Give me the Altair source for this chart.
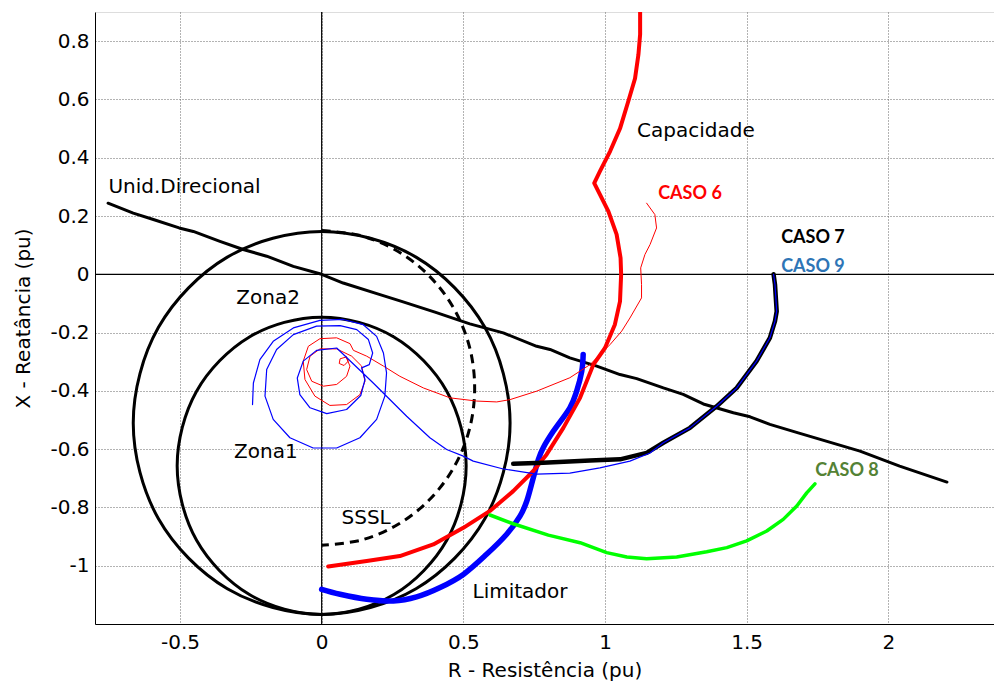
import altair as alt
import pandas as pd

# ---------------- data ----------------
unid_x = [-0.754, -0.665, -0.594, -0.503, -0.453, -0.359, -0.277, -0.194, -0.1, 0.0, 0.076, 0.206, 0.282, 0.4,
          0.523, 0.641, 0.759, 0.806, 0.876, 0.971, 1.053, 1.112, 1.206, 1.276, 1.347, 1.453, 1.512, 1.582,
          1.682, 1.9, 2.04, 2.207]
unid_y = [0.244, 0.21, 0.188, 0.159, 0.147, 0.113, 0.085, 0.062, 0.027, 0.0, -0.03, -0.07, -0.093, -0.13,
          -0.17, -0.201, -0.247, -0.258, -0.287, -0.315, -0.344, -0.358, -0.39, -0.412, -0.445, -0.475, -0.489,
          -0.515, -0.544, -0.607, -0.658, -0.713]

zona2_x = [0.0, 0.333, 0.576, 0.665, 0.576, 0.333, 0.0, -0.333, -0.576, -0.665, -0.576, -0.333]
zona2_y = [0.147, 0.059, -0.182, -0.51, -0.839, -1.079, -1.167, -1.079, -0.839, -0.51, -0.182, 0.059]

zona1_x = [0.0, 0.255, 0.442, 0.51, 0.442, 0.255, 0.0, -0.255, -0.442, -0.51, -0.442, -0.255]
zona1_y = [-0.147, -0.215, -0.402, -0.657, -0.912, -1.099, -1.167, -1.099, -0.912, -0.657, -0.402, -0.215]

sssl_x = [0.0, 0.14, 0.27, 0.382, 0.468, 0.522, 0.54, 0.522, 0.468, 0.382, 0.27, 0.14, 0.0]
sssl_y = [0.15, 0.132, 0.078, -0.008, -0.12, -0.25, -0.39, -0.53, -0.66, -0.772, -0.858, -0.912, -0.93]

cap_x = [1.124, 1.124, 1.118, 1.106, 1.082, 1.053, 1.018, 0.982, 0.962, 0.982, 1.012, 1.041, 1.055, 1.057,
         1.053, 1.035, 1.0, 0.959, 0.912, 0.853, 0.794, 0.747, 0.676, 0.594, 0.5, 0.394, 0.276, 0.159, 0.023]
cap_y = [0.9, 0.823, 0.754, 0.672, 0.593, 0.5, 0.422, 0.353, 0.313, 0.274, 0.216, 0.137, 0.056, 0.0,
         -0.093, -0.172, -0.253, -0.31, -0.424, -0.527, -0.618, -0.675, -0.744, -0.812, -0.87, -0.927, -0.967,
         -0.984, -1.003]

caso6_x = [1.147, 1.176, 1.182, 1.159, 1.141, 1.126, 1.129, 1.129, 1.088, 1.059, 1.018, 0.947, 0.876, 0.759,
           0.665, 0.618, 0.547, 0.453, 0.359, 0.276, 0.218, 0.159, 0.112, 0.1, 0.053, -0.006, -0.047, -0.065,
           -0.059, -0.024, 0.029, 0.088, 0.135, 0.153, 0.141, 0.106, 0.053, -0.006, -0.041, -0.053, -0.035,
           0.006, 0.053, 0.088, 0.1, 0.086, 0.065, 0.062, 0.079, 0.094, 0.086]
caso6_y = [0.244, 0.205, 0.159, 0.102, 0.068, 0.022, -0.035, -0.081, -0.15, -0.195, -0.241, -0.31, -0.355,
           -0.401, -0.43, -0.438, -0.435, -0.424, -0.39, -0.35, -0.315, -0.281, -0.261, -0.238, -0.218, -0.221,
           -0.247, -0.298, -0.361, -0.418, -0.45, -0.447, -0.413, -0.367, -0.315, -0.281, -0.256, -0.256,
           -0.281, -0.327, -0.367, -0.384, -0.378, -0.35, -0.315, -0.284, -0.29, -0.306, -0.313, -0.298, -0.281]

caso7_x = [1.595, 1.6, 1.606, 1.6, 1.582, 1.535, 1.465, 1.394, 1.3, 1.206, 1.147, 1.053, 0.947, 0.782, 0.676]
caso7_y = [0.0, -0.035, -0.127, -0.161, -0.218, -0.298, -0.39, -0.453, -0.527, -0.578, -0.613, -0.635, -0.639,
           -0.647, -0.65]

caso9_x = [-0.244, -0.241, -0.218, -0.171, -0.1, -0.006, 0.076, 0.147, 0.194, 0.218, 0.229, 0.223, 0.194,
           0.135, 0.053, -0.03, -0.112, -0.171, -0.2, -0.194, -0.159, -0.1, -0.018, 0.065, 0.124, 0.165, 0.18,
           0.168, 0.141, 0.153, 0.138, 0.088, 0.018, -0.041, -0.077, -0.086, -0.065, -0.018, 0.053, 0.182,
           0.276, 0.3, 0.382, 0.441, 0.5, 0.535, 0.641, 0.759, 0.876, 0.982, 1.088, 1.159, 1.206, 1.3, 1.394,
           1.465, 1.535, 1.582, 1.6, 1.606, 1.6, 1.595]
caso9_y = [-0.447, -0.373, -0.293, -0.23, -0.184, -0.158, -0.155, -0.173, -0.213, -0.27, -0.338, -0.418,
           -0.498, -0.561, -0.596, -0.596, -0.561, -0.498, -0.418, -0.327, -0.258, -0.207, -0.178, -0.176,
           -0.19, -0.224, -0.27, -0.31, -0.321, -0.361, -0.416, -0.464, -0.478, -0.458, -0.413, -0.356,
           -0.298, -0.261, -0.253, -0.373, -0.464, -0.487, -0.561, -0.601, -0.624, -0.641, -0.668, -0.686,
           -0.682, -0.664, -0.641, -0.613, -0.578, -0.527, -0.453, -0.39, -0.298, -0.218, -0.161, -0.127,
           -0.035, 0.0]

lim_x = [0.923, 0.918, 0.9, 0.876, 0.818, 0.782, 0.765, 0.747, 0.724, 0.7, 0.653, 0.582, 0.5, 0.418, 0.335,
         0.253, 0.159, 0.065, 0.0]
lim_y = [-0.275, -0.333, -0.401, -0.458, -0.538, -0.595, -0.635, -0.698, -0.778, -0.83, -0.892, -0.961, -1.03,
         -1.075, -1.107, -1.121, -1.115, -1.098, -1.081]

caso8_x = [0.594, 0.676, 0.8, 0.912, 1.006, 1.077, 1.147, 1.253, 1.359, 1.43, 1.5, 1.571, 1.629, 1.677, 1.712,
           1.741]
caso8_y = [-0.826, -0.856, -0.895, -0.921, -0.955, -0.97, -0.976, -0.97, -0.952, -0.938, -0.915, -0.881,
           -0.841, -0.795, -0.75, -0.719]

x_ticks = [-0.5, 0, 0.5, 1, 1.5, 2]
y_ticks = [-1, -0.8, -0.6, -0.4, -0.2, 0, 0.2, 0.4, 0.6, 0.8]

label_text = ["Unid.Direcional", "Zona2", "Zona1", "SSSL", "Capacidade", "Limitador"]
label_x = [-0.484, -0.189, -0.197, 0.157, 1.321, 0.7]
label_y = [0.298, -0.082, -0.61, -0.836, 0.49, -1.09]

caso_text = ["CASO 6", "CASO 7", "CASO 9", "CASO 8"]
caso_x = [1.3, 1.734, 1.734, 1.854]
caso_y = [0.274, 0.123, 0.024, -0.675]
caso_color = ["#ff0000", "#000000", "#2e75b6", "#548235"]

# ---------------- chart ----------------
XD = [-0.8, 2.373]
YD = [-1.2, 0.9]
FONT = "DejaVu Sans"

xs = alt.Scale(domain=XD, nice=False, zero=False)
ys = alt.Scale(domain=YD, nice=False, zero=False)


def frame(xv, yv):
    return pd.DataFrame({"x": xv, "y": yv, "o": list(range(len(xv)))})


def path(xv, yv, color, width, interp="linear", dash=None):
    kw = dict(color=color, strokeWidth=width, interpolate=interp, clip=True, strokeCap="round",
              strokeJoin="round")
    if dash:
        kw["strokeDash"] = dash
        kw["strokeCap"] = "butt"
    return alt.Chart(frame(xv, yv)).mark_line(**kw).encode(
        x=alt.X("x:Q", scale=xs),
        y=alt.Y("y:Q", scale=ys),
        order="o:Q",
    )


xaxis = alt.Axis(values=x_ticks, title="R - Resistência (pu)", labelExpr="toString(datum.value)",
                 grid=True, gridDash=[1, 2], gridColor="#666666", gridOpacity=1,
                 ticks=False, domainColor="black", labelFont=FONT, labelFontSize=20, labelColor="black",
                 labelPadding=8, titleFont=FONT, titleFontSize=20, titleFontWeight="normal",
                 titleColor="black", titleY=52, titleBaseline="alphabetic", labelFlush=False)
yaxis = alt.Axis(values=y_ticks, title="X - Reatância (pu)", labelExpr="toString(datum.value)",
                 grid=True, gridDash=[1, 2], gridColor="#666666", gridOpacity=1,
                 ticks=False, domainColor="black", labelFont=FONT, labelFontSize=20, labelColor="black",
                 labelPadding=6, titleFont=FONT, titleFontSize=20, titleFontWeight="normal",
                 titleColor="black", titlePadding=16, labelFlush=False)

base = alt.Chart(pd.DataFrame({"x": [0.0], "y": [0.0]})).mark_point(opacity=0).encode(
    x=alt.X("x:Q", scale=xs, axis=xaxis),
    y=alt.Y("y:Q", scale=ys, axis=yaxis),
)

vrule = alt.Chart(pd.DataFrame({"x": [0.0]})).mark_rule(color="black", strokeWidth=1.2).encode(
    x=alt.X("x:Q", scale=xs))
hrule = alt.Chart(pd.DataFrame({"y": [0.0]})).mark_rule(color="black", strokeWidth=1.2).encode(
    y=alt.Y("y:Q", scale=ys))

labels = alt.Chart(pd.DataFrame({"x": label_x, "y": label_y, "t": label_text})).mark_text(
    font=FONT, fontSize=20, color="black", align="center", baseline="middle").encode(
    x=alt.X("x:Q", scale=xs), y=alt.Y("y:Q", scale=ys), text="t:N")

casos = alt.Chart(pd.DataFrame({"x": caso_x, "y": caso_y, "t": caso_text, "c": caso_color})).mark_text(
    font="Lato", fontSize=18, fontWeight="bold", align="center", baseline="middle").encode(
    x=alt.X("x:Q", scale=xs), y=alt.Y("y:Q", scale=ys), text="t:N",
    color=alt.Color("c:N", scale=None))

chart = alt.layer(
    base,
    vrule,
    hrule,
    path(unid_x, unid_y, "black", 3),
    path(zona2_x, zona2_y, "black", 3, "cardinal-closed"),
    path(zona1_x, zona1_y, "black", 3, "cardinal-closed"),
    path(sssl_x, sssl_y, "black", 3, "cardinal", dash=[9, 6]),
    path(lim_x, lim_y, "#0000ff", 5.5, "cardinal"),
    path(cap_x, cap_y, "#ff0000", 4),
    path(caso6_x, caso6_y, "#ff0000", 1),
    path(caso8_x, caso8_y, "#00ff00", 3.5),
    path(caso7_x, caso7_y, "black", 4.5),
    path(caso9_x, caso9_y, "#0000ff", 1.2),
    labels,
    casos,
).properties(
    width=899,
    height=612,
    autosize=alt.AutoSizeParams(type="none"),
    padding={"left": 87, "top": 4, "right": 0, "bottom": 57},
).configure_view(stroke=None).configure(background="white")

chart.save("out.html", embed_options={"renderer": "svg", "actions": False})
